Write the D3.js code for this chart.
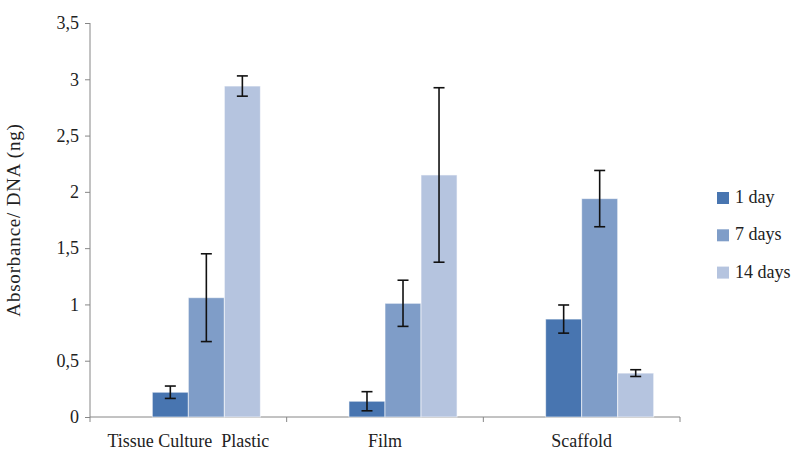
<!DOCTYPE html>
<html>
<head>
<meta charset="utf-8">
<script src="https://cdn.jsdelivr.net/npm/d3@7"></script>
<style>
  body { margin: 0; background: #fff; }
</style>
</head>
<body>
<svg id="chart" width="795" height="452" font-family="'Liberation Serif', 'DejaVu Serif', serif"></svg>
<script>
// data
const categories = ['Tissue Culture  Plastic', 'Film', 'Scaffold'];
const series = ['1 day', '7 days', '14 days'];
const values = {
  '1 day':   [0.22, 0.14, 0.87],
  '7 days':  [1.06, 1.01, 1.94],
  '14 days': [2.94, 2.15, 0.39]
};
const errors = {
  '1 day':   [0.055, 0.085, 0.125],
  '7 days':  [0.39, 0.205, 0.25],
  '14 days': [0.09, 0.775, 0.03]
};
const yTicks = [0, 0.5, 1, 1.5, 2, 2.5, 3, 3.5];
const colors = ['#4875b0', '#7f9dc8', '#b5c4df'];

const FONT = "'Liberation Serif', 'DejaVu Serif', serif";
const FS = '18px';

const svg = d3.select('#chart');
const margin = { top: 23, right: 115, bottom: 35, left: 90 };
const width = +svg.attr('width');
const height = +svg.attr('height');
const innerWidth = width - margin.left - margin.right;
const innerHeight = height - margin.top - margin.bottom;

const g = svg.append('g')
  .attr('transform', `translate(${margin.left}, ${margin.top})`);

const x0 = d3.scaleBand()
  .domain(categories)
  .range([0, innerWidth])
  .padding(0);

// Excel left an empty slot in front of the three series
const x1 = d3.scaleBand()
  .domain(['_empty'].concat(series))
  .range([0, x0.bandwidth()])
  .paddingInner(0)
  .paddingOuter(0.73);

const yScale = d3.scaleLinear()
  .domain([0, 3.5])
  .range([innerHeight, 0]);

const color = d3.scaleOrdinal().domain(series).range(colors);

// y axis
const yAxis = d3.axisLeft(yScale)
  .tickValues(yTicks)
  .tickSize(5)
  .tickPadding(6)
  .tickFormat(d => String(d).replace('.', ','));

const yAxisG = g.append('g').call(yAxis)
  .attr('font-family', FONT)
  .attr('font-size', FS);
yAxisG.select('.domain').attr('stroke', '#868686').attr('d', `M0,${innerHeight + 5}V0`);
yAxisG.selectAll('.tick line').attr('stroke', '#868686');
yAxisG.selectAll('.tick text').attr('fill', '#222');

// x axis with ticks on the category boundaries
const xAxisG = g.append('g').attr('transform', `translate(0, ${innerHeight})`);
xAxisG.append('line')
  .attr('x1', 0).attr('x2', innerWidth)
  .attr('stroke', '#868686');
xAxisG.selectAll('.bound')
  .data(categories.slice(1).concat(['_end']))
  .enter().append('line')
  .attr('x1', (d, i) => x0.step() * (i + 1))
  .attr('x2', (d, i) => x0.step() * (i + 1))
  .attr('y1', 0).attr('y2', 5)
  .attr('stroke', '#868686');
xAxisG.selectAll('.cat')
  .data(categories)
  .enter().append('text')
  .attr('x', d => x0(d) + x0.bandwidth() / 2)
  .attr('y', 30)
  .attr('text-anchor', 'middle')
  .attr('font-family', FONT)
  .attr('font-size', FS)
  .attr('fill', '#222')
  .style('white-space', 'pre')
  .text(d => d);

// bars
const groups = g.selectAll('.grp')
  .data(categories)
  .enter().append('g')
  .attr('transform', d => `translate(${x0(d)}, 0)`);

const rows = ci => series.map(s => ({ s, v: values[s][ci], e: errors[s][ci] }));

groups.each(function (cat, ci) {
  const grp = d3.select(this);
  const data = rows(ci);

  grp.selectAll('rect')
    .data(data)
    .enter().append('rect')
    .attr('x', d => x1(d.s))
    .attr('y', d => yScale(d.v))
    .attr('width', x1.bandwidth())
    .attr('height', d => yScale(0) - yScale(d.v))
    .attr('fill', d => color(d.s))
    .attr('stroke', 'rgba(255,255,255,0.6)')
    .attr('stroke-width', 1);

  const eb = grp.selectAll('.err')
    .data(data)
    .enter().append('g')
    .attr('stroke', '#111')
    .attr('stroke-width', 1.6);
  const cx = d => x1(d.s) + x1.bandwidth() / 2;
  eb.append('line')
    .attr('x1', cx).attr('x2', cx)
    .attr('y1', d => yScale(d.v + d.e))
    .attr('y2', d => yScale(d.v - d.e));
  eb.append('line')
    .attr('x1', d => cx(d) - 5.5).attr('x2', d => cx(d) + 5.5)
    .attr('y1', d => yScale(d.v + d.e)).attr('y2', d => yScale(d.v + d.e));
  eb.append('line')
    .attr('x1', d => cx(d) - 5.5).attr('x2', d => cx(d) + 5.5)
    .attr('y1', d => yScale(d.v - d.e)).attr('y2', d => yScale(d.v - d.e));
});

// y axis title
g.append('text')
  .attr('transform', `translate(${-70}, ${innerHeight / 2}) rotate(-90)`)
  .attr('text-anchor', 'middle')
  .attr('font-family', FONT)
  .attr('font-size', '19px')
  .attr('letter-spacing', '0.8px')
  .attr('fill', '#222')
  .text('Absorbance/ DNA (ng)');

// legend
const legend = svg.append('g').attr('transform', 'translate(717, 192)');
const item = legend.selectAll('.item')
  .data(series)
  .enter().append('g')
  .attr('transform', (d, i) => `translate(0, ${i * 37.3})`);
item.append('rect')
  .attr('width', 12).attr('height', 12)
  .attr('fill', d => color(d));
item.append('text')
  .attr('x', 18).attr('y', 11)
  .attr('font-family', FONT)
  .attr('font-size', FS)
  .attr('fill', '#222')
  .text(d => d);
</script>
</body>
</html>
